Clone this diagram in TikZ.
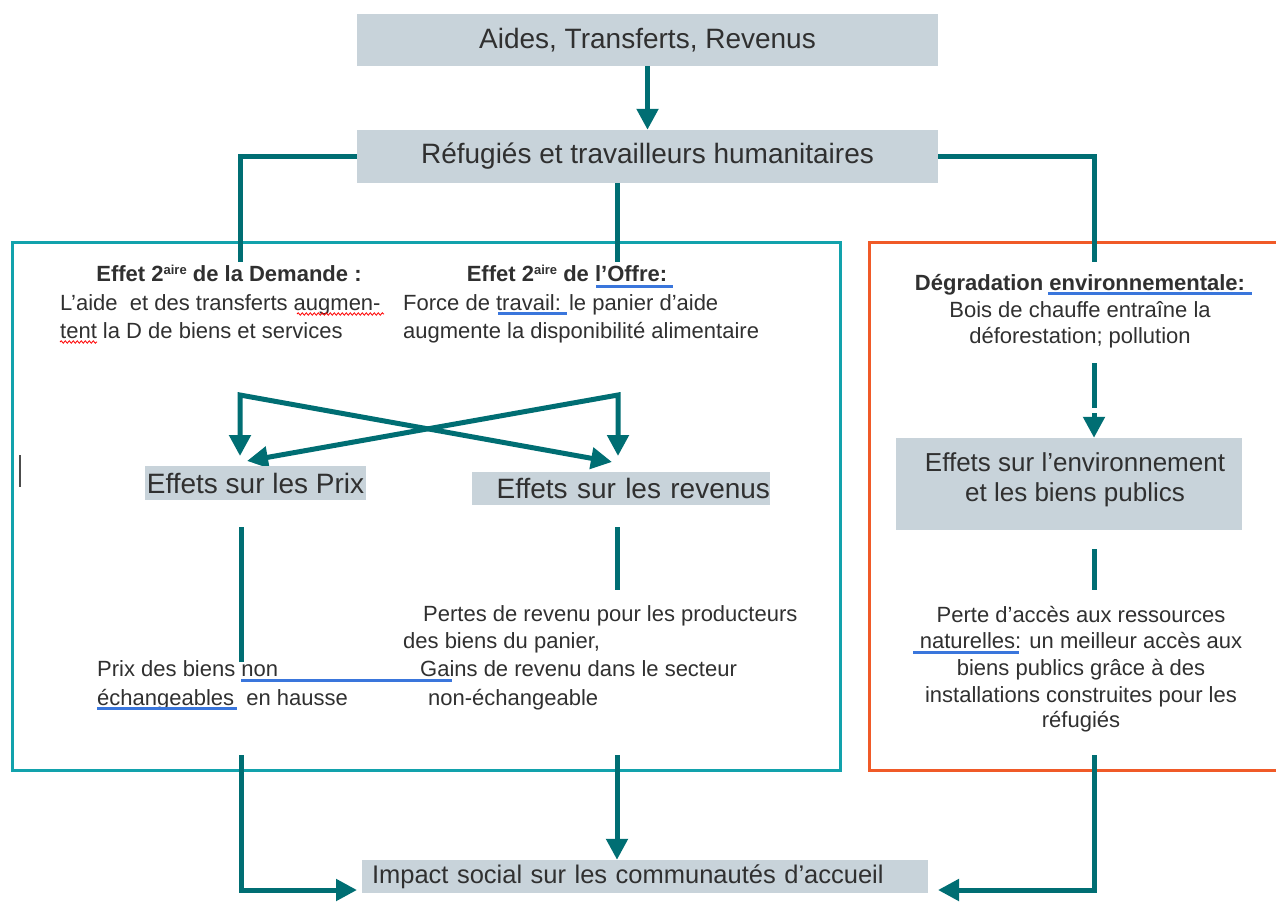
\documentclass[tikz,border=0pt]{standalone}
\usepackage{fontspec}
\setmainfont{Liberation Sans}
\usetikzlibrary{arrows.meta,decorations.pathmorphing}
\definecolor{teal1}{HTML}{006E73}
\definecolor{cyanb}{HTML}{12A2AC}
\definecolor{orangeb}{HTML}{F05A28}
\definecolor{boxg}{HTML}{C8D3DA}
\definecolor{txt}{HTML}{303030}
\definecolor{spell}{HTML}{3A76DC}
\newcommand{\aireSup}{\raisebox{7pt}{\fontsize{13}{13}\selectfont aire}}
\begin{document}
\begin{tikzpicture}[x=1pt,y=-1pt,
 box/.style={fill=boxg, inner sep=0pt, text=txt},
 big/.style={font=\fontsize{28}{32}\selectfont},
 sm/.style={font=\fontsize{22}{28}\selectfont, text=txt, inner sep=0pt},
 smb/.style={font=\fontsize{22}{28}\selectfont\bfseries, text=txt, inner sep=0pt},
 conn/.style={draw=teal1, line width=5pt},
 arr/.style={conn, -{Triangle[width=21pt,length=21pt]}},
 ul/.style={draw=spell, line width=3pt},
 wavy/.style={draw=red, line width=0.8pt, decorate, decoration={snake, amplitude=1.2pt, segment length=4pt}}
]
\useasboundingbox (0,0) rectangle (1276,902);
\fill[white] (0,0) rectangle (1276,902);

% frames
\draw[cyanb, line width=3pt] (12,242) rectangle (840,770);
\draw[orangeb, line width=3pt] (869,242) rectangle (1300,770);

% top boxes
\node[box,big,minimum width=581pt,minimum height=52pt] (a) at (647.5,40) {Aides, Transferts, Revenus};
\node[box,big,minimum width=581pt,minimum height=53pt] (r) at (647.5,156.5) {Réfugiés et travailleurs humanitaires};
\draw[arr] (a.south) -- (r.north);

\coordinate (dtop) at (240,262);
\coordinate (otop) at (617,262);
\coordinate (etop) at (1094,262);
\draw[conn] (r.west) -| (dtop);
\draw[conn] (r.south -| otop) -- (otop);
\draw[conn] (r.east) -| (etop);

% demand block
\node[smb, anchor=base] (demT) at (229,281) {Effet 2\aireSup{} de la Demande :};
\node[sm, anchor=base west] (dem1) at (60,310) {L’aide\ \ et des transferts augmen-};
\node[sm, anchor=base west] (dem2) at (60,338) {tent la D de biens et services};
\draw[wavy] (297,314) -- (384,314);
\draw[wavy] (60,342) -- (97,342);

% offer block
\node[smb, anchor=base] (offT) at (567,281) {Effet 2\aireSup{} de l’Offre:};
\node[sm, anchor=base west] (off1) at (403,310) {Force de travail: le panier d’aide};
\node[sm, anchor=base west] (off2) at (403,338) {augmente la disponibilité alimentaire};
\draw[ul] (596,286) -- (673,286);
\draw[ul] (498,313) -- (567,313);

% crossing arrows
\coordinate (cl) at (240,395);
\coordinate (cr) at (618,395);
\coordinate (pl) at (240,456);
\coordinate (pd) at (247,461);
\coordinate (rr) at (618,456);
\coordinate (rd) at (612,462);
\draw[conn, {Triangle[width=21pt,length=21pt]}-{Triangle[width=21pt,length=21pt]}] (pl) -- (cl) -- (rd);
\draw[conn, {Triangle[width=21pt,length=21pt]}-{Triangle[width=21pt,length=21pt]}] (rr) -- (cr) -- (pd);

% effect boxes
\node[box, big, minimum width=221pt, minimum height=34pt] (prix) at (255.5,483) {Effets sur les Prix};
\node[box, big, text width=298pt, align=right, minimum height=33pt] (rev) at (621,488.5) {Effets sur les revenus};

\coordinate (p1) at (241,527);
\coordinate (p2) at (241,662);
\draw[conn] (p1) -- (p2);
\coordinate (m1) at (617,527);
\coordinate (m2) at (617,590);
\draw[conn] (m1) -- (m2);

% lower texts
\node[sm, anchor=base west] (per1) at (423,621) {Pertes de revenu pour les producteurs};
\node[sm, anchor=base west] (per2) at (403,648) {des biens du panier,};
\node[sm, anchor=base west] (per3) at (420,676) {Gains de revenu dans le secteur};
\node[sm, anchor=base west] (per4) at (428,705) {non-échangeable};
\node[sm, anchor=base west] (px1) at (97,676) {Prix des biens non};
\node[sm, anchor=base west] (px2) at (97,705) {échangeables\ \ en hausse};
\draw[ul] (241,680) -- (452,680);
\draw[ul] (97,708) -- (237,708);

% cursor mark
\draw[black!70, line width=1.5pt] (20,455) -- (20,487);

% bottom
\node[box, font=\fontsize{25.5}{30}\selectfont, text width=546pt, align=left, inner xsep=10pt, minimum height=33pt] (imp) at (645,876.5) {Impact social sur les communautés d’accueil};
\coordinate (b1) at (241,755);
\coordinate (il) at (357,890);
\draw[arr] (b1) |- (il);
\coordinate (b2) at (617,755);
\draw[arr] (b2) -- (b2 |- imp.north);
\coordinate (b3) at (1094,755);
\coordinate (ir) at (938,890);
\draw[arr] (b3) |- (ir);

% right column
\node[smb, anchor=base] (envT) at (1080,290) {Dégradation environnementale:};
\node[sm, anchor=base] (env1) at (1080,317) {Bois de chauffe entraîne la};
\node[sm, anchor=base] (env2) at (1080,343) {déforestation; pollution};
\draw[ul] (1048,293) -- (1252,293);

\node[box, minimum width=346pt, minimum height=92pt] (envb) at (1069,484) {};
\node[font=\fontsize{26}{30}\selectfont, text=txt, align=center, inner sep=0pt] (envt) at (1075,480) {Effets sur l’environnement\\et les biens publics};
\coordinate (e1) at (1094,363);
\coordinate (e2) at (1094,408);
\coordinate (e3) at (1094,413);
\draw[conn] (e1) -- (e2);
\draw[arr] (e3) -- (envb.north -| e3);
\coordinate (e4) at (1094,549);
\coordinate (e5) at (1094,590);
\draw[conn] (e4) -- (e5);

\node[sm, anchor=base] (pa1) at (1081,622) {Perte d\symbol{39}accès aux ressources};
\node[sm, anchor=base] (pa2) at (1081,648) {naturelles: un meilleur accès aux};
\node[sm, anchor=base] (pa3) at (1081,675) {biens publics grâce à des};
\node[sm, anchor=base] (pa4) at (1081,702) {installations construites pour les};
\node[sm, anchor=base] (pa5) at (1081,727) {réfugiés};
\draw[ul] (913,652) -- (1019,652);
\end{tikzpicture}
\end{document}
